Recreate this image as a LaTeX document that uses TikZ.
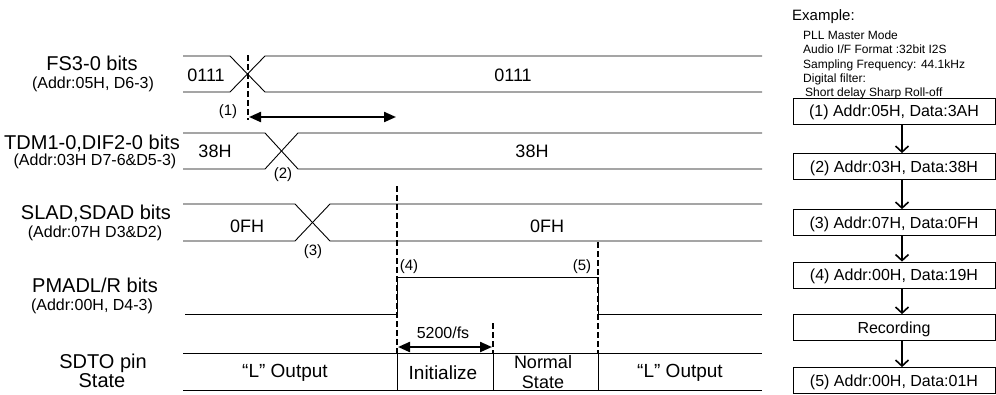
\documentclass[tikz,border=0pt]{standalone}
\usepackage{fontspec}
\setmainfont{Liberation Sans}
\usetikzlibrary{arrows.meta}

\tikzset{
  sig/.style={line width=0.9pt},
  guide/.style={line width=1.6pt, dash pattern=on 6pt off 3pt},
  span/.style={{Triangle[length=12pt,width=10pt]}-{Triangle[length=12pt,width=10pt]}, line width=2.2pt},
  flow/.style={-{Straight Barb[length=6pt,width=13pt]}, line width=1.6pt},
  flowbox/.style={draw, line width=0.8pt, minimum width=202pt, minimum height=26pt, inner sep=0pt,
    font=\fontsize{16}{19}\selectfont, text height=11.5pt, text depth=0pt},
  signame/.style={font=\fontsize{20}{24}\selectfont, inner sep=0pt, text height=14.4pt, text depth=0pt},
  sigaddr/.style={font=\fontsize{16}{19}\selectfont, inner sep=0pt, text height=11.5pt, text depth=0pt},
  busval/.style={font=\fontsize{18}{22}\selectfont, inner sep=0pt, text height=13pt, text depth=0pt},
  stepno/.style={font=\fontsize{15}{18}\selectfont, inner sep=0pt, text height=10.8pt, text depth=0pt},
  pinstate/.style={font=\fontsize{19}{22}\selectfont, inner sep=0pt, text height=13.7pt, text depth=0pt},
  note/.style={font=\fontsize{12}{14}\selectfont, inner sep=0pt, anchor=west, text height=8.6pt, text depth=0pt},
}

\begin{document}
\begin{tikzpicture}[x=1pt, y=-1pt]
    \useasboundingbox (0,0) rectangle (996,394);

    % Signal names
    \node[signame] (fsname) at (92,63) {FS3-0 bits};
    \node[sigaddr] (fsaddr) at (93,83) {(Addr:05H, D6-3)};
    \node[signame] (tdmname) at (92,142) {TDM1-0,DIF2-0 bits};
    \node[sigaddr] (tdmaddr) at (95,160) {(Addr:03H D7-6\&D5-3)};
    \node[signame] (sladname) at (96,212) {SLAD,SDAD bits};
    \node[sigaddr] (sladaddr) at (95,232) {(Addr:07H D3\&D2)};
    \node[signame] (pmadname) at (95,285) {PMADL/R bits};
    \node[sigaddr] (pmadaddr) at (92,305) {(Addr:00H, D4-3)};
    \node[signame] (sdtoname) at (103,361) {SDTO pin};
    \node[signame] (sdtostate) at (102,380) {State};

    % FS3-0
    \draw[sig] (183,56) -- (230,56) -- (265,92) -- (762,92);
    \draw[sig] (183,92) -- (230,92) -- (265,56) -- (762,56);
    \node[busval] (fsold) at (206,75) {0111};
    \node[busval] (fsnew) at (513,75) {0111};

    % TDM1-0, DIF2-0
    \draw[sig] (183,133) -- (265,133) -- (298,169) -- (762,169);
    \draw[sig] (183,169) -- (265,169) -- (298,133) -- (762,133);
    \node[busval] (tdmold) at (215,151) {38H};
    \node[busval] (tdmnew) at (532,151) {38H};

    % SLAD, SDAD
    \draw[sig] (183,204) -- (295,204) -- (330,241) -- (762,241);
    \draw[sig] (183,241) -- (295,241) -- (330,204) -- (762,204);
    \node[busval] (sladold) at (247,226) {0FH};
    \node[busval] (sladnew) at (547,226) {0FH};

    % PMADL/R
    \draw[sig] (185,314) -- (397,314) -- (397,277) -- (598,277) -- (598,314) -- (762,314);

    % SDTO
    \draw[sig] (183,353) -- (762,353);
    \draw[sig] (183,390) -- (762,390);
    \draw[sig] (397,353) -- (397,390);
    \draw[sig] (493,353) -- (493,390);
    \draw[sig] (598,353) -- (598,390);
    \node[pinstate] (sdtolow) at (285,371) {“L” Output};
    \node[pinstate] (sdtoinit) at (443,373) {Initialize};
    \node[busval] (sdtonorm) at (543,362) {Normal};
    \node[busval] (sdtonorm2) at (543,382) {State};
    \node[pinstate] (sdtolow2) at (680,371) {“L” Output};

    % Timing marks
    \draw[guide] (248,55) -- (248,120);
    \draw[guide] (397,186) -- (397,353);
    \draw[guide] (598,242) -- (598,353);
    \draw[guide] (493,323) -- (493,353);
    \node[stepno] (s1) at (228,110) {(1)};
    \node[stepno] (s2) at (283,173) {(2)};
    \node[stepno] (s3) at (313,250) {(3)};
    \node[stepno] (s4) at (409,265) {(4)};
    \node[stepno] (s5) at (582,265) {(5)};
    \node[sigaddr] (tinit) at (443,333) {5200/fs};

    \coordinate (w1a) at (249,117);
    \coordinate (w1b) at (396,117);
    \draw[span] (w1a) -- (w1b);
    \coordinate (w2a) at (398,347);
    \coordinate (w2b) at (492,347);
    \draw[span] (w2a) -- (w2b);

    % Example sequence
    \node[anchor=west, font=\fontsize{15}{18}\selectfont, inner sep=0pt, text height=10.8pt, text depth=0pt]
        (exhdr) at (792,15) {Example:};
    \node[note] (cfg1) at (803,35) {PLL Master Mode};
    \node[note] (cfg2) at (803,49) {Audio I/F Format :32bit I2S};
    \node[note] (cfg3) at (803,64) {Sampling Frequency: 44.1kHz};
    \node[note] (cfg4) at (803,78) {Digital filter:};
    \node[note] (cfg5) at (805,92) {Short delay Sharp Roll-off};

    \node[flowbox] (b1) at (894,111) {(1) Addr:05H, Data:3AH};
    \node[flowbox] (b2) at (894,166.5) {(2) Addr:03H, Data:38H};
    \node[flowbox] (b3) at (894,222.5) {(3) Addr:07H, Data:0FH};
    \node[flowbox] (b4) at (894,275) {(4) Addr:00H, Data:19H};
    \node[flowbox] (rec) at (894,327.5) {Recording};
    \node[flowbox] (b5) at (894,380.5) {(5) Addr:00H, Data:01H};

    \draw[flow] ([xshift=8pt]b1.south) -- ([xshift=8pt]b2.north);
    \draw[flow] ([xshift=8pt]b2.south) -- ([xshift=8pt]b3.north);
    \draw[flow] ([xshift=8pt]b3.south) -- ([xshift=8pt]b4.north);
    \draw[flow] ([xshift=8pt]b4.south) -- ([xshift=8pt]rec.north);
    \draw[flow] ([xshift=8pt]rec.south) -- ([xshift=8pt]b5.north);
\end{tikzpicture}
\end{document}
